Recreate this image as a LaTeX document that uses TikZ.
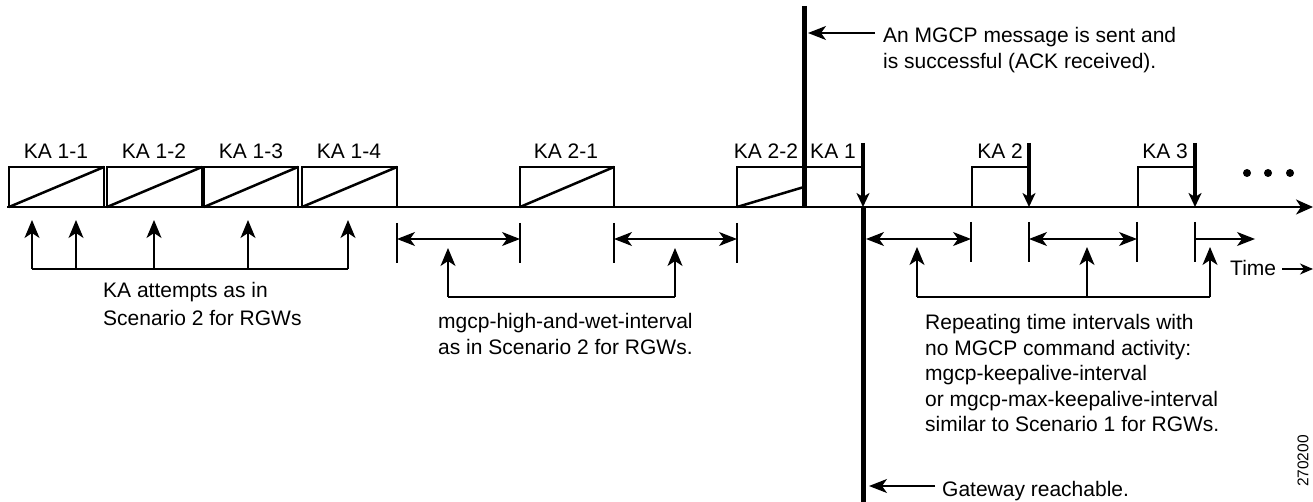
\documentclass[tikz,border=0pt]{standalone}
\usepackage{fontspec}
\setmainfont{Liberation Sans}
\usetikzlibrary{arrows.meta}
\begin{document}
\begin{tikzpicture}[x=1pt,y=-1pt,
  lbl/.style={font=\fontsize{21}{26}\selectfont, inner sep=0, anchor=base},
  txt/.style={font=\fontsize{21}{26}\selectfont, inner sep=0, anchor=base west},
  boxline/.style={line width=2.5pt},
  thinline/.style={line width=1.3pt},
  upar/.style={thinline, -{Stealth[length=18pt,width=15pt,inset=5pt]}},
  dbl/.style={thinline, {Stealth[length=18pt,width=14pt,inset=5pt]}-{Stealth[length=18pt,width=14pt,inset=5pt]}},
  sgl/.style={thinline, -{Stealth[length=18pt,width=14pt,inset=5pt]}},
  kaar/.style={line width=3.5pt, -{Stealth[length=14pt,width=13pt,inset=4pt]}},
  thick5/.style={line width=5pt},
  tick/.style={thinline},
]
\useasboundingbox (0,0) rectangle (1313,502);
% timeline
\coordinate (tl0) at (7,207);
\coordinate (tl1) at (1313,207);
\draw[boxline, -{Stealth[length=17pt,width=15pt,inset=5pt]}] (tl0) -- (tl1);
% KA 1-x boxes
\foreach \a/\b in {9/104,107/202,204/298,302/397}{
  \draw[boxline] (\a,207) rectangle (\b,167);
  \draw[boxline] (\a,207) -- (\b,167);
}
\node[lbl] (ka11) at (56,159) {KA 1-1};
\node[lbl] (ka12) at (154,159) {KA 1-2};
\node[lbl] (ka13) at (251,159) {KA 1-3};
\node[lbl] (ka14) at (349,159) {KA 1-4};
% KA 2-1
\draw[boxline] (520,207) rectangle (614,167);
\draw[boxline] (520,207) -- (614,167);
\node[lbl] (ka21) at (566,159) {KA 2-1};
% KA 2-2 and KA 1
\draw[boxline] (737,207) -- (737,167) -- (863,167);
\draw[boxline] (737,207) -- (804,187);
\node[lbl] (ka22) at (766,159) {KA 2-2};
\node[lbl] (ka1) at (833,159) {KA 1};
\draw[thick5] (804,6) -- (804,207);
\draw[kaar] (863,143) -- (863,207);
\draw[thick5] (863,207) -- (863,502);
% KA 2, KA 3
\draw[boxline] (972,207) -- (972,167) -- (1029,167);
\draw[kaar] (1029,143) -- (1029,207);
\node[lbl] (ka2) at (1000,159) {KA 2};
\draw[boxline] (1138,207) -- (1138,167) -- (1195,167);
\draw[kaar] (1195,143) -- (1195,207);
\node[lbl] (ka3) at (1165,159) {KA 3};
% dots
\foreach \x in {1247,1268,1290}{\fill (\x,173) circle (4);}
% MGCP message
\draw[thinline, -{Stealth[length=18pt,width=14pt,inset=5pt]}] (875,33) -- (808,33);
\node[txt] (m1) at (883,43) {An MGCP message is sent and};
\node[txt] (m2) at (883,69) {is successful (ACK received).};
% left bracket
\foreach \x in {32,76,154,248,348}{\draw[upar] (\x,269) -- (\x,220);}
\draw[thinline] (32,269) -- (348,269);
\node[txt] (k1) at (103,298) {KA attempts as in};
\node[txt] (k2) at (103,325) {Scenario 2 for RGWs};
% middle intervals
\foreach \x in {397,520,614,737}{\draw[tick] (\x,223) -- (\x,263);}
\draw[dbl] (397,239) -- (520,239);
\draw[dbl] (614,239) -- (737,239);
\foreach \x in {448,675}{\draw[upar] (\x,297) -- (\x,248);}
\draw[thinline] (448,297) -- (675,297);
\node[txt] (h1) at (438,328) {mgcp-high-and-wet-interval};
\node[txt] (h2) at (438,354) {as in Scenario 2 for RGWs.};
% right intervals
\foreach \x in {971,1029,1137,1195}{\draw[tick] (\x,222) -- (\x,262);}
\draw[dbl] (866,239) -- (971,239);
\draw[dbl] (1029,239) -- (1137,239);
\draw[sgl] (1195,239) -- (1255,239);
\foreach \x in {917,1087,1210}{\draw[upar] (\x,297) -- (\x,247);}
\draw[thinline] (917,297) -- (1210,297);
\node[txt] (r1) at (925,329) {Repeating time intervals with};
\node[txt] (r2) at (925,355) {no MGCP command activity:};
\node[txt] (r3) at (925,380) {mgcp-keepalive-interval};
\node[txt] (r4) at (925,406) {or mgcp-max-keepalive-interval};
\node[txt] (r5) at (925,431) {similar to Scenario 1 for RGWs.};
% time
\node[txt] (time) at (1230,276) {Time};
\draw[thinline, -{Stealth[length=13pt,width=11pt,inset=4pt]}] (1282,269) -- (1313,269);
% gateway reachable
\draw[thinline, -{Stealth[length=18pt,width=14pt,inset=5pt]}] (935,486) -- (869,486);
\node[txt] (gw) at (942,496) {Gateway reachable.};
% id
\node[font=\fontsize{15.5}{18}\selectfont, inner sep=0, rotate=90] (id) at (1303,461) {270200};
\end{tikzpicture}
\end{document}
